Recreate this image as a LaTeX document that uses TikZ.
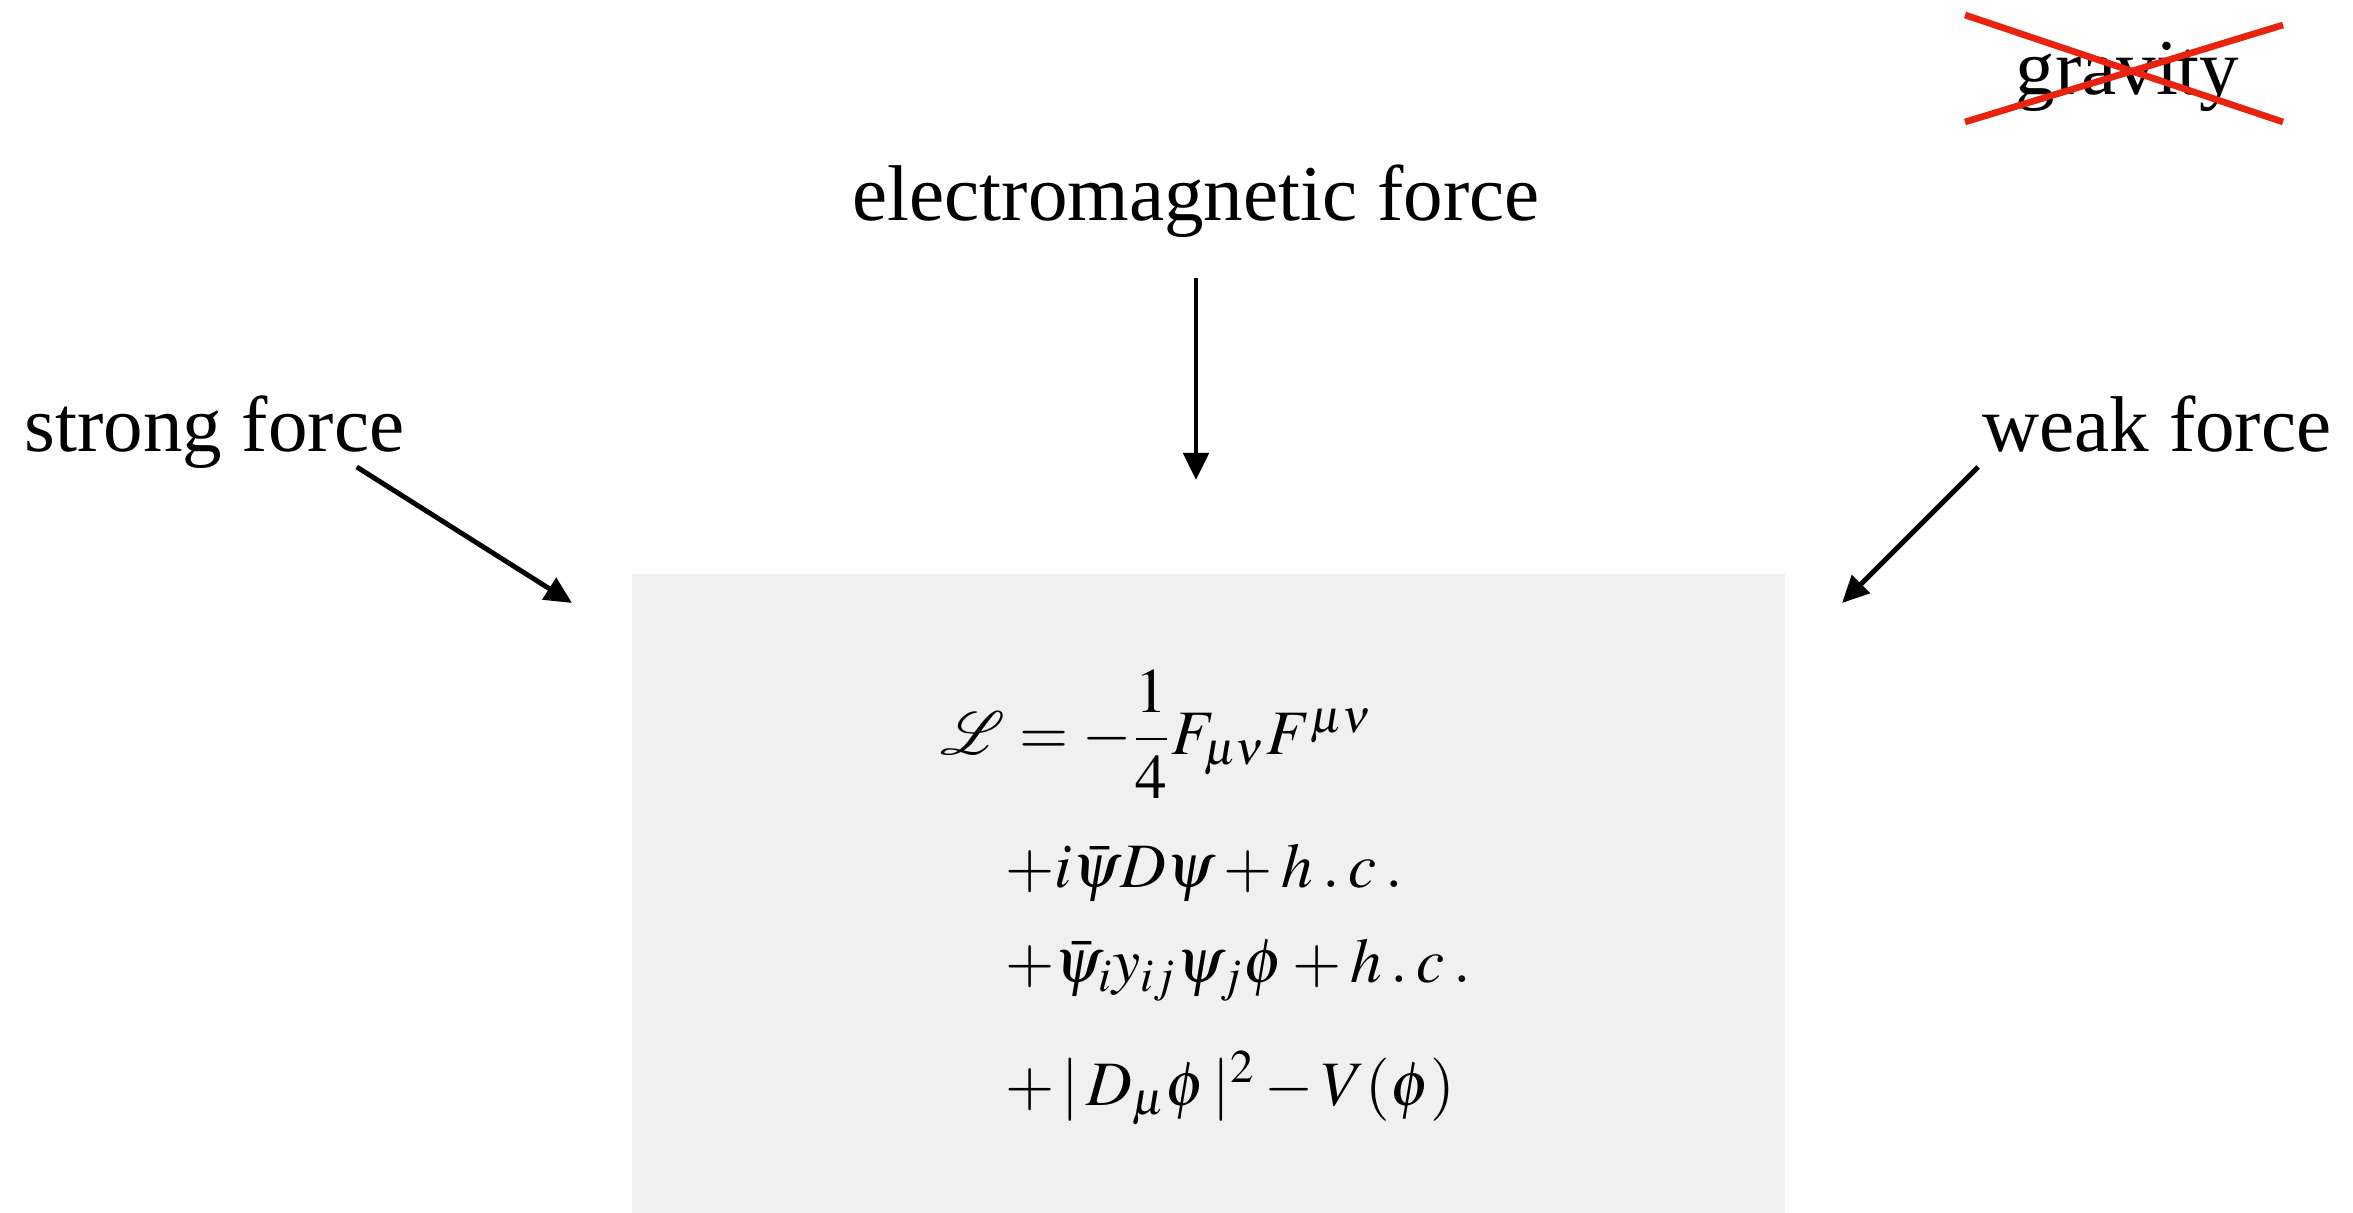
\documentclass[tikz,border=0pt]{standalone}
\usepackage{amsmath}
\usepackage{mathptmx}
\usepackage{mathrsfs}
\usepackage[no-math]{fontspec}
\setmainfont{Liberation Serif}
\usetikzlibrary{arrows.meta, positioning}
\definecolor{cpanel}{HTML}{F0F0F0}
\definecolor{cred}{HTML}{E8230F}
\tikzset{
  every picture/.style={line width=1.4pt},
  force/.style={font=\fontsize{22.5}{27}\selectfont, inner sep=0pt},
  eqline/.style={font=\fontsize{18}{22}\selectfont, inner sep=0pt, anchor=base west},
  panel/.style={fill=cpanel, inner sep=0pt, anchor=north west},
  arrow/.style={-{Triangle[length=2.7mm, width=2.5mm]}, draw=black, line width=1.4pt},
  cross/.style={draw=cred, line width=1.9pt},
}

\begin{document}
\begin{tikzpicture}
  \useasboundingbox (0,0) rectangle (23.53,-12.13);
  % the Lagrangian
  \node[panel, minimum width=11.53cm, minimum height=6.41cm] (lagr) at (6.30,-5.72) {};
  \node[eqline] (eqa) at (9.38,-7.55) {$\mathscr{L} = -\dfrac{1}{4}F_{\mu\nu}F^{\mu\nu}$};
  \node[eqline] (eqb) at ([shift={(0.65,-1.32)}]eqa.base west) {$+i\bar{\psi}D\psi + h\:.\:c\:.$};
  \node[eqline] (eqc) at ([yshift=-0.95cm]eqb.base west) {$+\bar{\psi}_i y_{ij}\psi_j\phi + h\:.\:c\:.$};
  \node[eqline] (eqd) at ([yshift=-1.23cm]eqc.base west) {$+\,|\,D_\mu\phi\,|^2 - V(\phi)$};
  % the forces
  \node[force, anchor=base] (em) at (11.96,-2.21) {electromagnetic force};
  \node[force, anchor=base west] (strong) at (0.22,-4.52) {strong force};
  \node[force, anchor=base west] (weak) at (19.80,-4.52) {weak force};
  \node[force, anchor=base west] (grav) at (20.13,-0.95) {gravity};
  \coordinate (emtip) at (11.96,-4.80);
  \coordinate (strongtip) at (5.72,-6.03);
  \coordinate (weaktip) at (18.42,-6.03);
  \draw[arrow] ([yshift=-0.57cm]em.base) -- (emtip);
  \draw[arrow] ([shift={(-0.50,-0.15)}]strong.base east) -- (strongtip);
  \draw[arrow] ([shift={(-0.02,-0.15)}]weak.base west) -- (weaktip);
  % gravity is crossed out
  \draw[cross] (19.65,-0.15) -- (22.83,-1.22);
  \draw[cross] (19.65,-1.22) -- (22.83,-0.25);
\end{tikzpicture}
\end{document}
